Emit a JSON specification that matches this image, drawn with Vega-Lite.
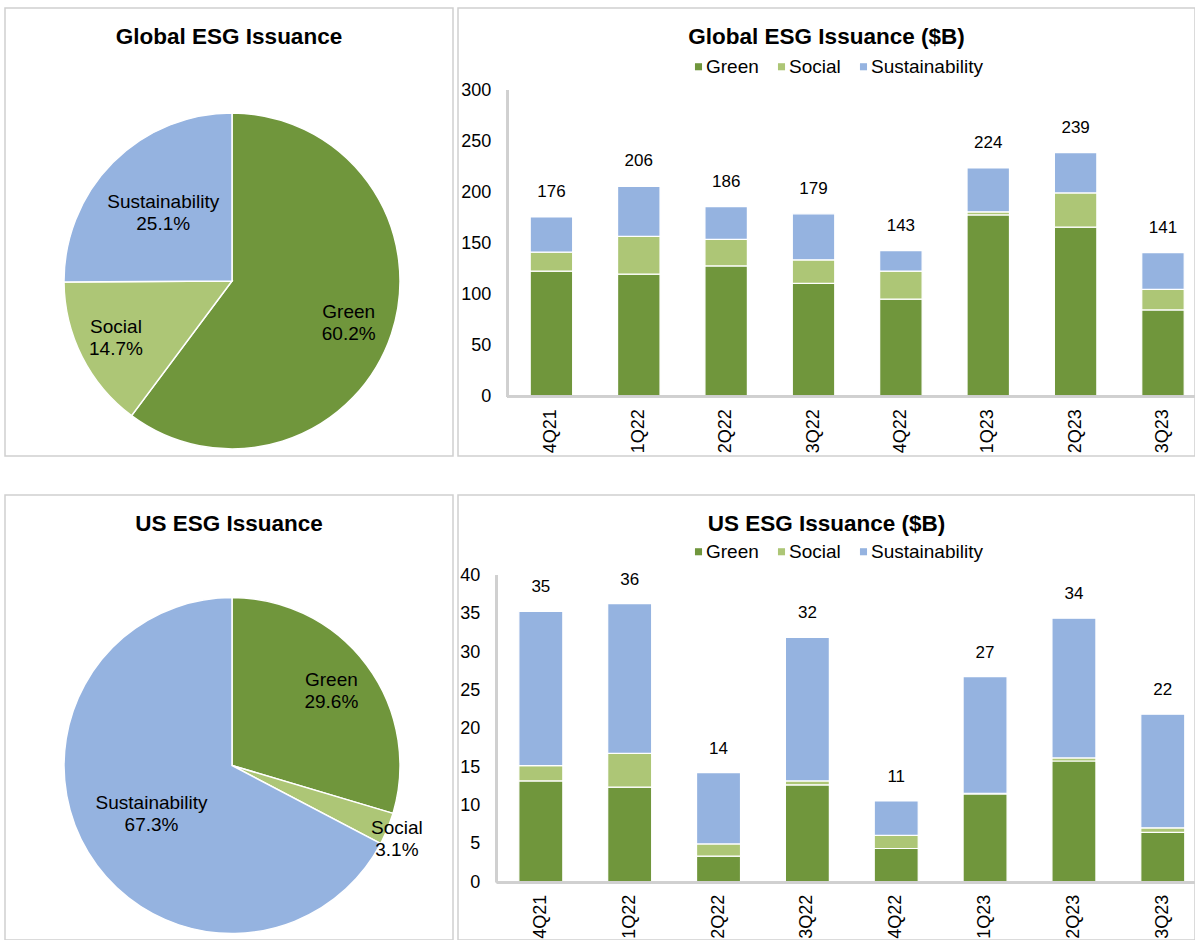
{
  "$schema": "https://vega.github.io/schema/vega-lite/v6.json",
  "background": "white",
  "padding": {"left": 4, "top": 7, "right": 0, "bottom": 0},
  "config": {
    "font": "Liberation Sans",
    "view": {"stroke": "#d0d0d0", "strokeWidth": 1.5},
    "title": {"fontSize": 22.5, "fontWeight": "bold", "color": "black", "anchor": "middle", "offset": -40, "font": "Liberation Sans"},
    "axis": {"labelFont": "Liberation Sans", "labelColor": "black", "labelFontSize": 18, "grid": false, "domain": false, "ticks": false, "tickSize": 0, "title": null},
    "legend": {"labelFont": "Liberation Sans", "labelColor": "black"},
    "text": {"font": "Liberation Sans", "color": "black"}
  },
  "datasets": {
    "globalPie": [
      {"type": "Green", "pct": 0.602},
      {"type": "Social", "pct": 0.147},
      {"type": "Sustainability", "pct": 0.251}
    ],
    "usPie": [
      {"type": "Green", "pct": 0.296},
      {"type": "Social", "pct": 0.031},
      {"type": "Sustainability", "pct": 0.673}
    ],
    "globalBars": [
      {"quarter": "4Q21", "type": "Green", "value": 123},
      {"quarter": "4Q21", "type": "Social", "value": 18.5},
      {"quarter": "4Q21", "type": "Sustainability", "value": 34.5},
      {"quarter": "1Q22", "type": "Green", "value": 120},
      {"quarter": "1Q22", "type": "Social", "value": 37},
      {"quarter": "1Q22", "type": "Sustainability", "value": 49},
      {"quarter": "2Q22", "type": "Green", "value": 128},
      {"quarter": "2Q22", "type": "Social", "value": 26},
      {"quarter": "2Q22", "type": "Sustainability", "value": 32},
      {"quarter": "3Q22", "type": "Green", "value": 111},
      {"quarter": "3Q22", "type": "Social", "value": 23},
      {"quarter": "3Q22", "type": "Sustainability", "value": 45},
      {"quarter": "4Q22", "type": "Green", "value": 95.5},
      {"quarter": "4Q22", "type": "Social", "value": 27.5},
      {"quarter": "4Q22", "type": "Sustainability", "value": 20},
      {"quarter": "1Q23", "type": "Green", "value": 178},
      {"quarter": "1Q23", "type": "Social", "value": 3},
      {"quarter": "1Q23", "type": "Sustainability", "value": 43},
      {"quarter": "2Q23", "type": "Green", "value": 166},
      {"quarter": "2Q23", "type": "Social", "value": 33.5},
      {"quarter": "2Q23", "type": "Sustainability", "value": 39.5},
      {"quarter": "3Q23", "type": "Green", "value": 85},
      {"quarter": "3Q23", "type": "Social", "value": 20},
      {"quarter": "3Q23", "type": "Sustainability", "value": 36}
    ],
    "usBars": [
      {"quarter": "4Q21", "type": "Green", "value": 13.2},
      {"quarter": "4Q21", "type": "Social", "value": 2.0},
      {"quarter": "4Q21", "type": "Sustainability", "value": 20.1},
      {"quarter": "1Q22", "type": "Green", "value": 12.4},
      {"quarter": "1Q22", "type": "Social", "value": 4.4},
      {"quarter": "1Q22", "type": "Sustainability", "value": 19.5},
      {"quarter": "2Q22", "type": "Green", "value": 3.4},
      {"quarter": "2Q22", "type": "Social", "value": 1.6},
      {"quarter": "2Q22", "type": "Sustainability", "value": 9.3},
      {"quarter": "3Q22", "type": "Green", "value": 12.7},
      {"quarter": "3Q22", "type": "Social", "value": 0.5},
      {"quarter": "3Q22", "type": "Sustainability", "value": 18.7},
      {"quarter": "4Q22", "type": "Green", "value": 4.4},
      {"quarter": "4Q22", "type": "Social", "value": 1.7},
      {"quarter": "4Q22", "type": "Sustainability", "value": 4.5},
      {"quarter": "1Q23", "type": "Green", "value": 11.5},
      {"quarter": "1Q23", "type": "Social", "value": 0.1},
      {"quarter": "1Q23", "type": "Sustainability", "value": 15.2},
      {"quarter": "2Q23", "type": "Green", "value": 15.8},
      {"quarter": "2Q23", "type": "Social", "value": 0.4},
      {"quarter": "2Q23", "type": "Sustainability", "value": 18.2},
      {"quarter": "3Q23", "type": "Green", "value": 6.5},
      {"quarter": "3Q23", "type": "Social", "value": 0.6},
      {"quarter": "3Q23", "type": "Sustainability", "value": 14.8}
    ]
  },
  "resolve": {
    "scale": {"x": "independent", "y": "independent", "color": "independent", "theta": "independent"},
    "axis": {"x": "independent", "y": "independent"},
    "legend": {"color": "independent"}
  },
  "spacing": 37,
  "vconcat": [
    {
      "spacing": 3,
      "resolve": {
        "scale": {"x": "independent", "y": "independent", "color": "independent", "theta": "independent"},
        "axis": {"x": "independent", "y": "independent"},
        "legend": {"color": "independent"}
      },
      "hconcat": [
        {
          "width": 448,
          "height": 448,
          "view": {"stroke": "#d0d0d0", "strokeWidth": 1.5},
          "title": {"text": "Global ESG Issuance"},
          "data": {"name": "globalPie"},
          "encoding": {
            "theta": {"field": "pct", "type": "quantitative", "stack": true},
            "order": {"field": "type", "type": "ordinal", "sort": "ascending"}
          },
          "layer": [
            {
              "mark": {"type": "arc", "radius": 168, "stroke": "white", "strokeWidth": 1.5, "xOffset": 3, "yOffset": 49},
              "encoding": {
                "color": {"field": "type", "type": "nominal", "scale": {"domain": ["Green", "Social", "Sustainability"], "range": ["#70963c", "#adc676", "#95b3e0"]}, "legend": null}
              }
            },
            {
              "mark": {"type": "text", "radius": 123, "xOffset": 3, "yOffset": 52, "dy": -11, "fontSize": 19},
              "encoding": {"detail": {"field": "type"}, "text": {"condition": {"test": "datum.type === 'Green'", "field": "type", "type": "nominal"}, "value": ""}}
            },
            {
              "mark": {"type": "text", "radius": 123, "xOffset": 3, "yOffset": 52, "dy": 11, "fontSize": 19},
              "encoding": {"detail": {"field": "type"}, "text": {"condition": {"test": "datum.type === 'Green'", "field": "pct", "type": "quantitative", "format": ".1%"}, "value": ""}}
            },
            {
              "mark": {"type": "text", "radius": 130, "xOffset": 3, "yOffset": 47, "dy": -11, "fontSize": 19},
              "encoding": {"detail": {"field": "type"}, "text": {"condition": {"test": "datum.type === 'Social'", "field": "type", "type": "nominal"}, "value": ""}}
            },
            {
              "mark": {"type": "text", "radius": 130, "xOffset": 3, "yOffset": 47, "dy": 11, "fontSize": 19},
              "encoding": {"detail": {"field": "type"}, "text": {"condition": {"test": "datum.type === 'Social'", "field": "pct", "type": "quantitative", "format": ".1%"}, "value": ""}}
            },
            {
              "mark": {"type": "text", "radius": 97, "xOffset": 3, "yOffset": 49, "dy": -11, "fontSize": 19},
              "encoding": {"detail": {"field": "type"}, "text": {"condition": {"test": "datum.type === 'Sustainability'", "field": "type", "type": "nominal"}, "value": ""}}
            },
            {
              "mark": {"type": "text", "radius": 97, "xOffset": 3, "yOffset": 49, "dy": 11, "fontSize": 19},
              "encoding": {"detail": {"field": "type"}, "text": {"condition": {"test": "datum.type === 'Sustainability'", "field": "pct", "type": "quantitative", "format": ".1%"}, "value": ""}}
            }
          ]
        },
        {
          "width": 737,
          "height": 448,
          "title": {"text": "Global ESG Issuance ($B)"},
          "data": {"name": "globalBars"},
          "encoding": {
            "x": {
              "field": "quarter", "type": "nominal", "sort": null,
              "scale": {"domain": ["4Q21", "1Q22", "2Q22", "3Q22", "4Q22", "1Q23", "2Q23", "3Q23"], "paddingInner": 0.514, "paddingOuter": 0.475, "align": 0.87},
              "axis": {"orient": "bottom", "offset": -59.25, "labelAngle": -90, "labelPadding": 12, "labelFontSize": 18, "title": null}
            }
          },
          "layer": [
            {
              "mark": {"type": "bar", "stroke": "white", "strokeWidth": 1.2},
              "encoding": {
                "y": {
                  "field": "value", "type": "quantitative", "stack": "zero",
                  "scale": {"domain": [-58.0, 380.5], "nice": false, "zero": false},
                  "axis": {"values": [0, 50, 100, 150, 200, 250, 300], "offset": -49.75, "labelPadding": 17, "labelFontSize": 18, "labelFlush": false, "labelOverlap": false, "title": null}
                },
                "color": {
                  "field": "type", "type": "nominal",
                  "scale": {"domain": ["Green", "Social", "Sustainability"], "range": ["#70963c", "#adc676", "#95b3e0"]},
                  "legend": {"orient": "none", "legendX": 231, "legendY": 49, "direction": "horizontal", "title": null, "symbolType": "square", "symbolSize": 50, "symbolStrokeWidth": 0, "labelFontSize": 19, "labelOffset": -2, "columnPadding": 13, "padding": 0}
                },
                "order": {"field": "type", "type": "ordinal", "sort": "ascending"}
              }
            },
            {
              "transform": [{"aggregate": [{"op": "sum", "field": "value", "as": "total"}], "groupby": ["quarter"]}],
              "mark": {"type": "text", "baseline": "alphabetic", "dy": -20, "fontSize": 17},
              "encoding": {
                "y": {"field": "total", "type": "quantitative", "title": null},
                "text": {"field": "total", "type": "quantitative", "format": ".0f"}
              }
            },
            {
              "mark": {"type": "rule", "color": "#d0d0d0", "strokeWidth": 2},
              "encoding": {
                "x": {"datum": "4Q21", "type": "nominal", "bandPosition": -0.53, "title": null},
                "y": {"datum": 0, "type": "quantitative", "title": null},
                "y2": {"datum": 300}
              }
            },
            {
              "mark": {"type": "rule", "color": "#d0d0d0", "strokeWidth": 2},
              "encoding": {
                "x": {"datum": "4Q21", "type": "nominal", "bandPosition": -0.53, "title": null},
                "x2": {"datum": "3Q23", "bandPosition": 1.6},
                "y": {"datum": 0, "type": "quantitative", "title": null}
              }
            }
          ]
        }
      ]
    },
    {
      "spacing": 3,
      "resolve": {
        "scale": {"x": "independent", "y": "independent", "color": "independent", "theta": "independent"},
        "axis": {"x": "independent", "y": "independent"},
        "legend": {"color": "independent"}
      },
      "hconcat": [
        {
          "width": 448,
          "height": 445,
          "view": {"stroke": "#d0d0d0", "strokeWidth": 1.5},
          "title": {"text": "US ESG Issuance"},
          "data": {"name": "usPie"},
          "encoding": {
            "theta": {"field": "pct", "type": "quantitative", "stack": true},
            "order": {"field": "type", "type": "ordinal", "sort": "ascending"}
          },
          "layer": [
            {
              "mark": {"type": "arc", "radius": 168, "stroke": "white", "strokeWidth": 1.5, "xOffset": 3, "yOffset": 48},
              "encoding": {
                "color": {"field": "type", "type": "nominal", "scale": {"domain": ["Green", "Social", "Sustainability"], "range": ["#70963c", "#adc676", "#95b3e0"]}, "legend": null}
              }
            },
            {
              "mark": {"type": "text", "radius": 124, "xOffset": 3, "yOffset": 48, "dy": -11, "fontSize": 19},
              "encoding": {"detail": {"field": "type"}, "text": {"condition": {"test": "datum.type === 'Green'", "field": "type", "type": "nominal"}, "value": ""}}
            },
            {
              "mark": {"type": "text", "radius": 124, "xOffset": 3, "yOffset": 48, "dy": 11, "fontSize": 19},
              "encoding": {"detail": {"field": "type"}, "text": {"condition": {"test": "datum.type === 'Green'", "field": "pct", "type": "quantitative", "format": ".1%"}, "value": ""}}
            },
            {
              "mark": {"type": "text", "radius": 178, "xOffset": 3, "yOffset": 54, "dy": -11, "fontSize": 19},
              "encoding": {"detail": {"field": "type"}, "text": {"condition": {"test": "datum.type === 'Social'", "field": "type", "type": "nominal"}, "value": ""}}
            },
            {
              "mark": {"type": "text", "radius": 178, "xOffset": 3, "yOffset": 54, "dy": 11, "fontSize": 19},
              "encoding": {"detail": {"field": "type"}, "text": {"condition": {"test": "datum.type === 'Social'", "field": "pct", "type": "quantitative", "format": ".1%"}, "value": ""}}
            },
            {
              "mark": {"type": "text", "radius": 94, "xOffset": 3, "yOffset": 48, "dy": -11, "fontSize": 19},
              "encoding": {"detail": {"field": "type"}, "text": {"condition": {"test": "datum.type === 'Sustainability'", "field": "type", "type": "nominal"}, "value": ""}}
            },
            {
              "mark": {"type": "text", "radius": 94, "xOffset": 3, "yOffset": 48, "dy": 11, "fontSize": 19},
              "encoding": {"detail": {"field": "type"}, "text": {"condition": {"test": "datum.type === 'Sustainability'", "field": "pct", "type": "quantitative", "format": ".1%"}, "value": ""}}
            }
          ]
        },
        {
          "width": 737,
          "height": 445,
          "title": {"text": "US ESG Issuance ($B)"},
          "data": {"name": "usBars"},
          "encoding": {
            "x": {
              "field": "quarter", "type": "nominal", "sort": null,
              "scale": {"domain": ["4Q21", "1Q22", "2Q22", "3Q22", "4Q22", "1Q23", "2Q23", "3Q23"], "paddingInner": 0.505, "paddingOuter": 0.4, "align": 0.856},
              "axis": {"orient": "bottom", "offset": -57.75, "labelAngle": -90, "labelPadding": 12, "labelFontSize": 18, "title": null}
            }
          },
          "layer": [
            {
              "mark": {"type": "bar", "stroke": "white", "strokeWidth": 1.2},
              "encoding": {
                "y": {
                  "field": "value", "type": "quantitative", "stack": "zero",
                  "scale": {"domain": [-7.52, 50.46], "nice": false, "zero": false},
                  "axis": {"values": [0, 5, 10, 15, 20, 25, 30, 35, 40], "offset": -38.75, "labelPadding": 17, "labelFontSize": 18, "labelFlush": false, "labelOverlap": false, "title": null}
                },
                "color": {
                  "field": "type", "type": "nominal",
                  "scale": {"domain": ["Green", "Social", "Sustainability"], "range": ["#70963c", "#adc676", "#95b3e0"]},
                  "legend": {"orient": "none", "legendX": 231, "legendY": 47, "direction": "horizontal", "title": null, "symbolType": "square", "symbolSize": 50, "symbolStrokeWidth": 0, "labelFontSize": 19, "labelOffset": -2, "columnPadding": 13, "padding": 0}
                },
                "order": {"field": "type", "type": "ordinal", "sort": "ascending"}
              }
            },
            {
              "transform": [{"aggregate": [{"op": "sum", "field": "value", "as": "total"}], "groupby": ["quarter"]}],
              "mark": {"type": "text", "baseline": "alphabetic", "dy": -19, "fontSize": 17},
              "encoding": {
                "y": {"field": "total", "type": "quantitative", "title": null},
                "text": {"field": "total", "type": "quantitative", "format": ".0f"}
              }
            },
            {
              "mark": {"type": "rule", "color": "#d0d0d0", "strokeWidth": 2},
              "encoding": {
                "x": {"datum": "4Q21", "type": "nominal", "bandPosition": -0.5, "title": null},
                "y": {"datum": 0, "type": "quantitative", "title": null},
                "y2": {"datum": 40}
              }
            },
            {
              "mark": {"type": "rule", "color": "#d0d0d0", "strokeWidth": 2},
              "encoding": {
                "x": {"datum": "4Q21", "type": "nominal", "bandPosition": -0.5, "title": null},
                "x2": {"datum": "3Q23", "bandPosition": 1.6},
                "y": {"datum": 0, "type": "quantitative", "title": null}
              }
            }
          ]
        }
      ]
    }
  ]
}
